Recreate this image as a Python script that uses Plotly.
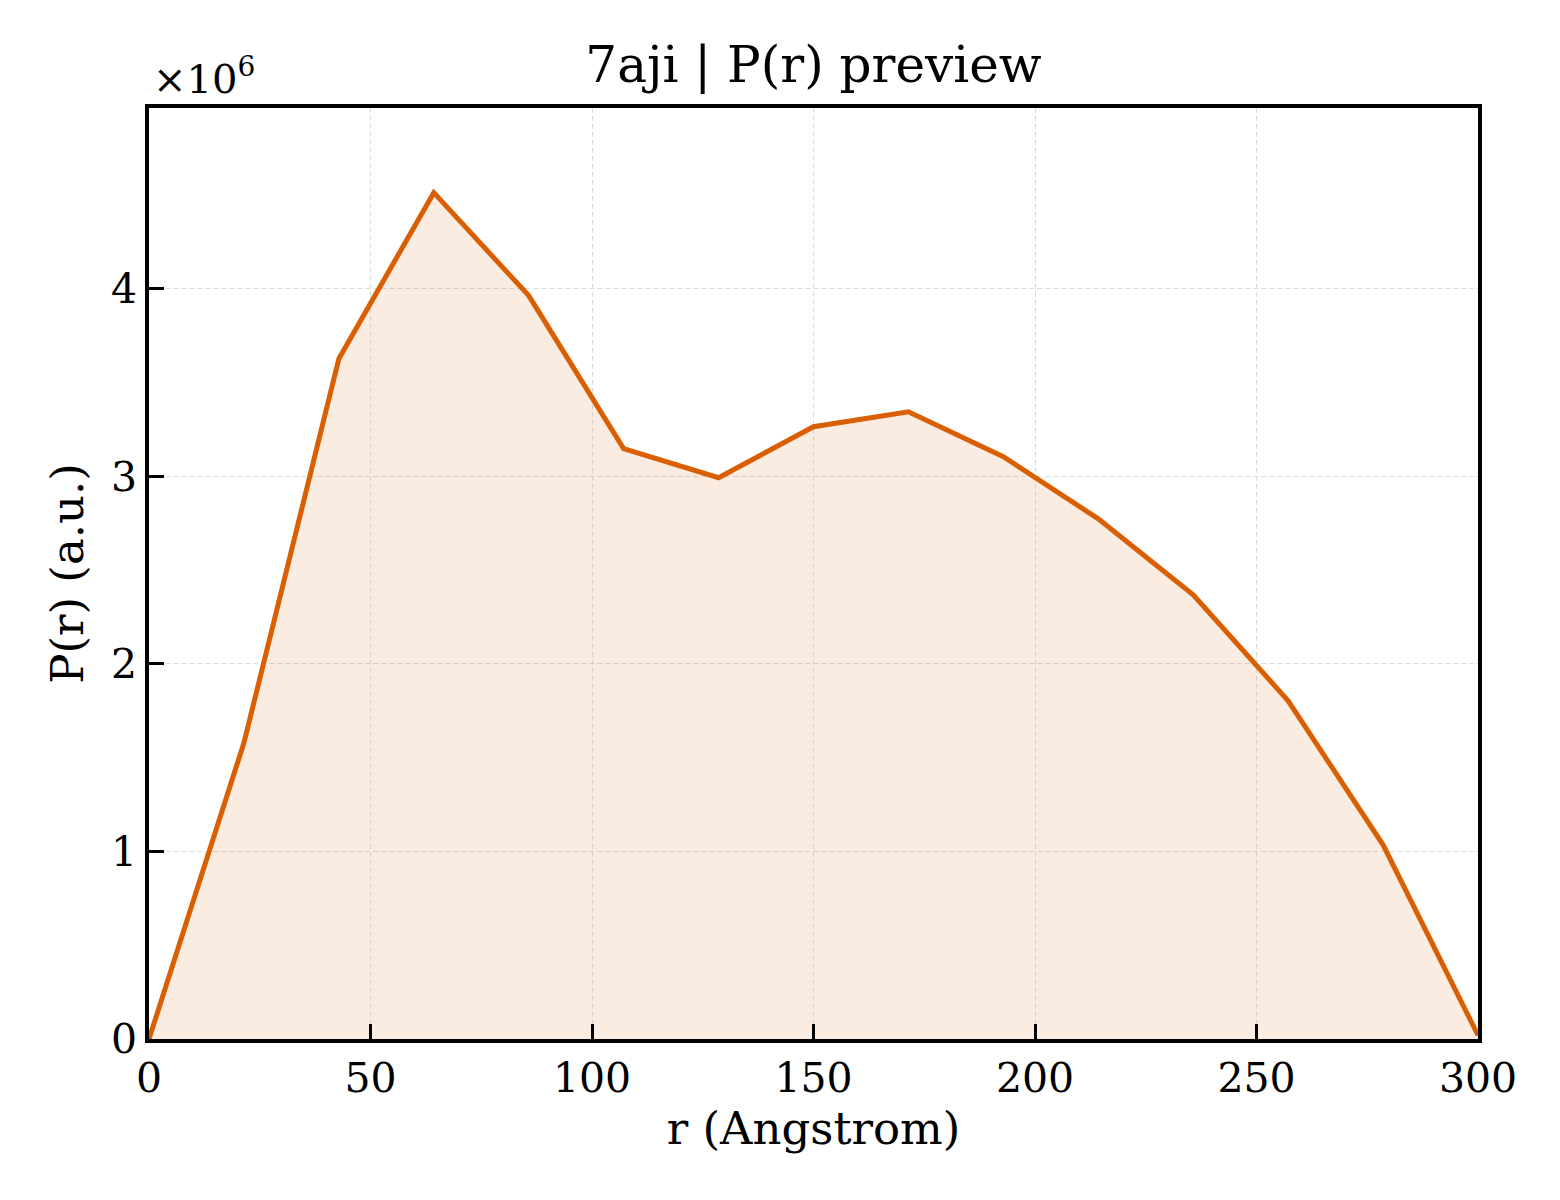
import plotly.graph_objects as go

r_values = [0.0, 21.43, 42.86, 64.29, 85.71, 107.14, 128.57, 150.0,
            171.43, 192.86, 214.29, 235.71, 257.14, 278.57, 300.0]
pr_values = [0.0, 1.579e6, 3.627e6, 4.512e6, 3.963e6, 3.147e6, 2.992e6, 3.264e6,
             3.344e6, 3.104e6, 2.773e6, 2.368e6, 1.803e6, 1.035e6, 0.02e6]
x_ticks = [0, 50, 100, 150, 200, 250, 300]
y_ticks = [0, 1, 2, 3, 4]

scale = 1e6
y_scaled = [v / scale for v in pr_values]

line_color = '#D95F02'
font_family = 'DejaVu Serif'

fig = go.Figure()
fig.add_trace(go.Scatter(x=r_values, y=y_scaled, mode='lines',
                         line=dict(color=line_color, width=5),
                         fill='tozeroy', fillcolor='rgba(217,95,2,0.12)',
                         showlegend=False))

axis_common = dict(showline=True, linecolor='black', linewidth=3.5, mirror=True,
                   ticks='inside', ticklen=15, tickwidth=3, tickcolor='black',
                   showgrid=True, gridcolor='#dcdcdc', griddash='5px,3px', gridwidth=1.3,
                   zeroline=False,
                   tickfont=dict(family=font_family, size=41, color='black'))

fig.update_xaxes(range=[0, 300], tickvals=x_ticks,
                 title=dict(text='r (Angstrom)', standoff=10,
                            font=dict(family=font_family, size=45, color='black')),
                 **axis_common)
fig.update_yaxes(range=[0, max(y_scaled) * 1.1], tickvals=y_ticks,
                 title=dict(text='P(r) (a.u.)', standoff=14,
                            font=dict(family=font_family, size=45, color='black')),
                 **axis_common)

fig.add_annotation(text='×10<sup>6</sup>', xref='paper', yref='paper', x=0, y=1,
                   xanchor='left', yanchor='bottom', showarrow=False, xshift=2, yshift=4,
                   font=dict(family=font_family, size=40, color='black'))

fig.update_layout(width=1560, height=1200,
                  title=dict(text='7aji | P(r) preview', x=0.5, xref='paper',
                             y=1 - 64 / 1200, yanchor='middle',
                             font=dict(family=font_family, size=50, color='black')),
                  margin=dict(l=149, r=82, t=108, b=161),
                  plot_bgcolor='white', paper_bgcolor='white')

fig.write_html("out.html", config={'displayModeBar': False},
               post_script="document.body.style.margin='0';")
